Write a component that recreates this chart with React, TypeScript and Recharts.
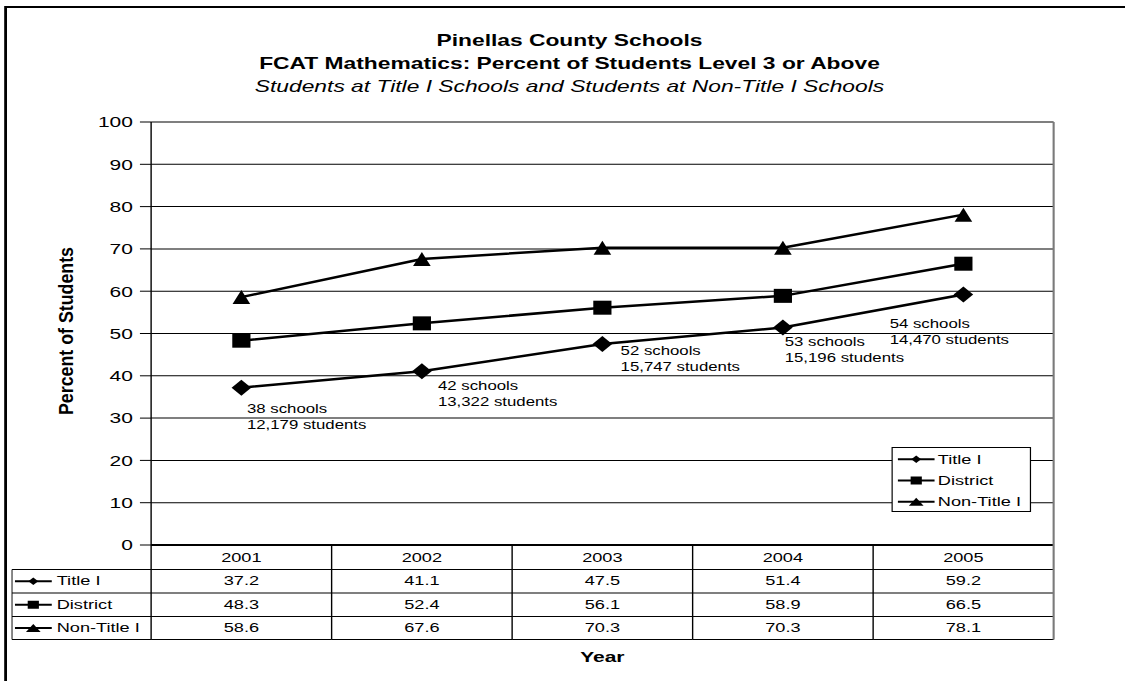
import React from 'react';
import { ComposedChart, Line, XAxis, YAxis, CartesianGrid, Legend, LabelList } from 'recharts';

// ---------- data ----------
const years = ['2001', '2002', '2003', '2004', '2005'];
const titleI = [37.2, 41.1, 47.5, 51.4, 59.2];
const district = [48.3, 52.4, 56.1, 58.9, 66.5];
const nonTitleI = [58.6, 67.6, 70.3, 70.3, 78.1];
const schoolCounts = [38, 42, 52, 53, 54];
const studentCounts = ['12,179', '13,322', '15,747', '15,196', '14,470'];
const seriesNames = ['Title I', 'District', 'Non-Title I'];
const yTicks = [0, 10, 20, 30, 40, 50, 60, 70, 80, 90, 100];
const titleLine1 = 'Pinellas County Schools';
const titleLine2 = 'FCAT Mathematics: Percent of Students Level 3 or Above';
const subtitle = 'Students at Title I Schools and Students at Non-Title I Schools';
const yAxisTitle = 'Percent of Students';
const xAxisTitle = 'Year';

const seriesValues = [titleI, district, nonTitleI];
const data = years.map((year, i) => ({
  year,
  titleI: titleI[i],
  district: district[i],
  nonTitleI: nonTitleI[i],
}));

// ---------- layout ----------
const W = 804;
const H = 681;
const SX = 1125 / W;
const PLOT_L = 108;
const PLOT_R = 753;
const PLOT_T = 122;
const PLOT_B = 545;
const BW = (PLOT_R - PLOT_L) / years.length;
const TABLE_L = 8.6;
const ROW_LINES = [569.5, 593, 616.5, 639.5];
const TEXT_BASE = [562.5, 585.5, 609, 632.5];
const FONT = '"Liberation Sans", Arial, Helvetica, sans-serif';
const LABEL_OFFSETS = [
  [4, 25],
  [11.5, 19],
  [13, 10.5],
  [1.3, 18],
  [-52.7, 33],
];

function Marker({ kind, cx, cy, w, h }: { kind: number; cx: number; cy: number; w: number; h: number }) {
  if (kind === 0) {
    return <path d={`M${cx},${cy - h / 2}L${cx + w / 2},${cy}L${cx},${cy + h / 2}L${cx - w / 2},${cy}Z`} fill="#000" />;
  }
  if (kind === 1) {
    return <rect x={cx - w / 2} y={cy - h / 2} width={w} height={h} fill="#000" />;
  }
  return <path d={`M${cx},${cy - h / 2}L${cx + w / 2},${cy + h / 2}L${cx - w / 2},${cy + h / 2}Z`} fill="#000" />;
}

const MAIN_SIZES = [
  [14, 16],
  [13, 14],
  [12.6, 14],
];
const KEY_SIZES = [
  [7, 7.5],
  [8, 8],
  [10.5, 8],
];

const makeDot = (kind: number) => (props: any) => {
  const { cx, cy, index } = props;
  if (cx == null || cy == null) return <g key={`d${kind}-${index}`} />;
  return (
    <g key={`d${kind}-${index}`}>
      <Marker kind={kind} cx={cx} cy={cy} w={MAIN_SIZES[kind][0]} h={MAIN_SIZES[kind][1]} />
    </g>
  );
};

const AnnotationLabel = (props: any) => {
  const { x, y, index } = props;
  const [dx, dy] = LABEL_OFFSETS[index] || [0, 0];
  return (
    <g>
      <text x={x + dx} y={y + dy} fontSize={12} fontFamily={FONT} fill="#000">
        {`${schoolCounts[index]} schools`}
      </text>
      <text x={x + dx} y={y + dy + 16} fontSize={12} fontFamily={FONT} fill="#000">
        {`${studentCounts[index]} students`}
      </text>
    </g>
  );
};

const TableTick = (props: any) => {
  const { x, payload } = props;
  const index = years.indexOf(String(payload.value));
  const left = x - BW / 2;
  const right = x + BW / 2;
  const last = index === years.length - 1;
  return (
    <g>
      <text x={x} y={TEXT_BASE[0]} textAnchor="middle" fontSize={13} fontFamily={FONT} fill="#000">
        {payload.value}
      </text>
      {seriesValues.map((vals, r) => (
        <text key={r} x={x} y={TEXT_BASE[r + 1]} textAnchor="middle" fontSize={13} fontFamily={FONT} fill="#000">
          {vals[index].toFixed(1)}
        </text>
      ))}
      {ROW_LINES.map((ly, k) => (
        <line key={k} x1={left} x2={right} y1={ly} y2={ly} stroke="#000" strokeWidth={1} />
      ))}
      <line
        x1={right}
        x2={right}
        y1={last ? PLOT_T : PLOT_B}
        y2={ROW_LINES[3]}
        stroke={last ? '#7a7a7a' : '#000'}
        strokeWidth={last ? 1.5 : 1}
      />
      {index === 0 && (
        <g>
          <line x1={left} x2={left} y1={PLOT_B} y2={ROW_LINES[3]} stroke="#000" strokeWidth={1} />
          <line x1={TABLE_L} x2={TABLE_L} y1={ROW_LINES[0]} y2={ROW_LINES[3]} stroke="#555" strokeWidth={1} />
          {ROW_LINES.map((ly, k) => (
            <line key={k} x1={TABLE_L} x2={left} y1={ly} y2={ly} stroke="#000" strokeWidth={1} />
          ))}
          {seriesNames.map((name, r) => {
            const cy = (ROW_LINES[r] + ROW_LINES[r + 1]) / 2;
            return (
              <g key={name}>
                <line x1={10.7} x2={37} y1={cy} y2={cy} stroke="#000" strokeWidth={2} />
                <Marker kind={r} cx={23.8} cy={cy} w={KEY_SIZES[r][0]} h={KEY_SIZES[r][1]} />
                <text x={40.5} y={TEXT_BASE[r + 1]} fontSize={13} fontFamily={FONT} fill="#000">
                  {name}
                </text>
              </g>
            );
          })}
        </g>
      )}
    </g>
  );
};

const LegendBox = () => {
  return (
    <svg width={100} height={65} style={{ display: 'block' }}>
      <rect x={0.5} y={0.5} width={99} height={64} fill="#fff" stroke="#000" strokeWidth={1} />
      {seriesNames.map((name, i) => {
        const cy = 12.3 + i * 21.2;
        return (
          <g key={name}>
            <line x1={4.7} x2={30.9} y1={cy} y2={cy} stroke="#000" strokeWidth={2} />
            <Marker kind={i} cx={17.8} cy={cy} w={KEY_SIZES[i][0]} h={KEY_SIZES[i][1]} />
            <text x={33.2} y={cy + 4.6} fontSize={13} fontFamily={FONT} fill="#000">
              {name}
            </text>
          </g>
        );
      })}
    </svg>
  );
};

export default function App() {
  return (
    <div
      style={{
        position: 'absolute',
        left: 0,
        top: 0,
        width: W,
        height: H,
        overflow: 'hidden',
        transform: `scaleX(${SX})`,
        transformOrigin: '0 0',
        background: '#fff',
      }}
    >
      <style>{'html,body{overflow:hidden;}'}</style>
      <div
        style={{
          position: 'absolute',
          left: 3,
          top: 6,
          width: 2000,
          height: 2000,
          border: '2px solid #000',
          boxSizing: 'border-box',
        }}
      />
      <div style={{ position: 'absolute', left: 0, top: 0 }}>
        <ComposedChart
          width={W}
          height={H}
          data={data}
          margin={{ top: PLOT_T, right: W - PLOT_R, bottom: 36, left: PLOT_L - 60 }}
        >
          <text x={407} y={46.5} textAnchor="middle" fontSize={16.3} fontWeight="bold" fontFamily={FONT} fill="#000">
            {titleLine1}
          </text>
          <text x={407} y={69.5} textAnchor="middle" fontSize={16.3} fontWeight="bold" fontFamily={FONT} fill="#000">
            {titleLine2}
          </text>
          <text x={407} y={92} textAnchor="middle" fontSize={16.3} fontStyle="italic" fontFamily={FONT} fill="#000">
            {subtitle}
          </text>
          <CartesianGrid vertical={false} stroke="#000" strokeWidth={1} />
          <XAxis
            dataKey="year"
            height={100}
            interval={0}
            padding={{ left: BW / 2, right: BW / 2 }}
            tickLine={false}
            axisLine={{ stroke: '#000', strokeWidth: 2 }}
            tick={TableTick}
            label={() => (
              <text x={(PLOT_L + PLOT_R) / 2} y={662} textAnchor="middle" fontSize={15} fontWeight="bold" fontFamily={FONT} fill="#000">
                {xAxisTitle}
              </text>
            )}
          />
          <YAxis
            width={60}
            domain={[0, 100]}
            ticks={yTicks}
            interval={0}
            tickSize={8}
            tickMargin={5}
            axisLine={{ stroke: '#000', strokeWidth: 1 }}
            tickLine={{ stroke: '#000', strokeWidth: 1 }}
            tick={{ fontSize: 15, fill: '#000', fontFamily: FONT }}
            label={() => (
              <text
                x={52}
                y={331}
                transform="rotate(-90 52 331)"
                textAnchor="middle"
                fontSize={14}
                fontWeight="bold"
                fontFamily={FONT}
                textLength={168}
                lengthAdjust="spacingAndGlyphs"
                fill="#000"
              >
                {yAxisTitle}
              </text>
            )}
          />
          <Legend
            layout="horizontal"
            align="center"
            verticalAlign="middle"
            content={LegendBox}
            wrapperStyle={{ position: 'absolute', left: 637, top: 447, width: 100, height: 65 }}
          />
          <Line
            type="linear"
            dataKey="titleI"
            name={seriesNames[0]}
            stroke="#000"
            strokeWidth={2.5}
            dot={makeDot(0)}
            activeDot={false}
            isAnimationActive={false}
          >
            <LabelList dataKey="titleI" content={AnnotationLabel} />
          </Line>
          <Line
            type="linear"
            dataKey="district"
            name={seriesNames[1]}
            stroke="#000"
            strokeWidth={2.5}
            dot={makeDot(1)}
            activeDot={false}
            isAnimationActive={false}
          />
          <Line
            type="linear"
            dataKey="nonTitleI"
            name={seriesNames[2]}
            stroke="#000"
            strokeWidth={2.5}
            dot={makeDot(2)}
            activeDot={false}
            isAnimationActive={false}
          />
        </ComposedChart>
      </div>
    </div>
  );
}
